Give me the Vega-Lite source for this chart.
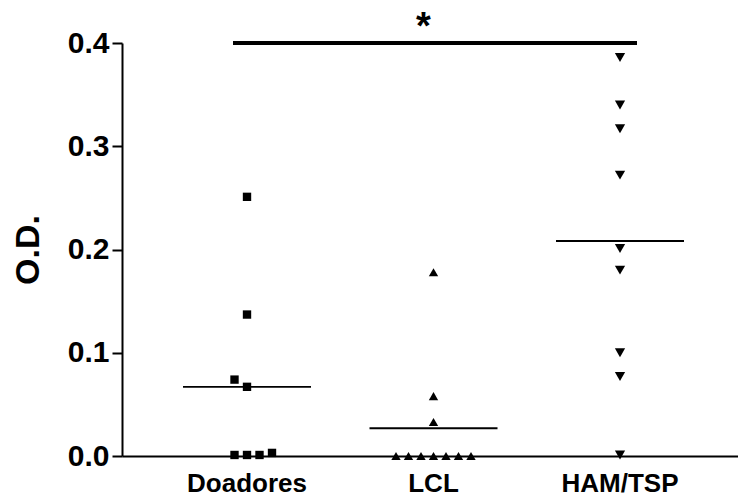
{
  "$schema": "https://vega.github.io/schema/vega-lite/v6.json",
  "width": 616,
  "height": 413,
  "autosize": {"type": "none"},
  "padding": {"left": 122, "top": 43, "right": 0, "bottom": 41},
  "background": "white",
  "config": {"view": {"stroke": null}, "font": "Liberation Sans"},
  "datasets": {
    "points": [
      {"group": "Doadores", "od": 0.251, "slot": 0},
      {"group": "Doadores", "od": 0.137, "slot": 0},
      {"group": "Doadores", "od": 0.074, "slot": -1},
      {"group": "Doadores", "od": 0.067, "slot": 0},
      {"group": "Doadores", "od": 0.001, "slot": -1},
      {"group": "Doadores", "od": 0.001, "slot": 0},
      {"group": "Doadores", "od": 0.001, "slot": 1},
      {"group": "Doadores", "od": 0.003, "slot": 2},
      {"group": "LCL", "od": 0.178, "slot": 0},
      {"group": "LCL", "od": 0.058, "slot": 0},
      {"group": "LCL", "od": 0.033, "slot": 0},
      {"group": "LCL", "od": 0.0, "slot": -3},
      {"group": "LCL", "od": 0.0, "slot": -2},
      {"group": "LCL", "od": 0.0, "slot": -1},
      {"group": "LCL", "od": 0.0, "slot": 0},
      {"group": "LCL", "od": 0.0, "slot": 1},
      {"group": "LCL", "od": 0.0, "slot": 2},
      {"group": "LCL", "od": 0.0, "slot": 3},
      {"group": "HAM/TSP", "od": 0.386, "slot": 0},
      {"group": "HAM/TSP", "od": 0.340, "slot": 0},
      {"group": "HAM/TSP", "od": 0.317, "slot": 0},
      {"group": "HAM/TSP", "od": 0.272, "slot": 0},
      {"group": "HAM/TSP", "od": 0.201, "slot": 0},
      {"group": "HAM/TSP", "od": 0.180, "slot": 0},
      {"group": "HAM/TSP", "od": 0.100, "slot": 0},
      {"group": "HAM/TSP", "od": 0.077, "slot": 0},
      {"group": "HAM/TSP", "od": 0.001, "slot": 0}
    ],
    "sig": [
      {"from": "Doadores", "to": "HAM/TSP", "mid": "LCL", "y": 0.4, "label": "*"}
    ]
  },
  "layer": [
    {
      "data": {"name": "points"},
      "mark": {"type": "point", "filled": true, "color": "black", "opacity": 1},
      "encoding": {
        "x": {
          "field": "group",
          "type": "nominal",
          "scale": {"domain": ["Doadores", "LCL", "HAM/TSP"], "paddingInner": 0, "paddingOuter": 0.1515, "align": 0.562},
          "title": null,
          "axis": {
            "ticks": false,
            "tickSize": 0,
            "domainColor": "black",
            "domainWidth": 2,
            "labelFont": "Liberation Sans",
            "labelFontSize": 26,
            "labelFontWeight": "bold",
            "labelColor": "black",
            "labelAngle": 0,
            "labelPadding": 14,
            "grid": false
          }
        },
        "xOffset": {
          "field": "slot",
          "type": "quantitative",
          "scale": {"domain": [-6, 6], "range": [18.25, 168.25]}
        },
        "y": {
          "field": "od",
          "type": "quantitative",
          "scale": {"domain": [0, 0.4], "nice": false, "zero": true},
          "title": "O.D.",
          "axis": {
            "values": [0, 0.1, 0.2, 0.3, 0.4],
            "format": ".1f",
            "grid": false,
            "domainColor": "black",
            "domainWidth": 2,
            "tickColor": "black",
            "tickWidth": 2,
            "tickSize": 10,
            "labelFont": "Liberation Sans",
            "labelFontSize": 30,
            "labelFontWeight": "bold",
            "labelColor": "black",
            "labelPadding": 3,
            "labelFlush": false,
            "labelOverlap": false,
            "labelBound": false,
            "titleFont": "Liberation Sans",
            "titleFontSize": 34,
            "titleFontWeight": "bold",
            "titleColor": "black",
            "titlePadding": 22
          }
        },
        "shape": {
          "field": "group",
          "type": "nominal",
          "scale": {"domain": ["Doadores", "LCL", "HAM/TSP"], "range": ["square", "triangle-up", "triangle-down"]},
          "legend": null
        },
        "size": {
          "field": "group",
          "type": "nominal",
          "scale": {"domain": ["Doadores", "LCL", "HAM/TSP"], "range": [70, 105, 105]},
          "legend": null
        }
      }
    },
    {
      "data": {"name": "points"},
      "mark": {"type": "tick", "color": "black", "size": 128, "thickness": 1.8},
      "encoding": {
        "x": {"field": "group", "type": "nominal"},
        "y": {"aggregate": "mean", "field": "od", "type": "quantitative"}
      }
    },
    {
      "data": {"name": "sig"},
      "mark": {"type": "rule", "color": "black", "strokeWidth": 4, "xOffset": -14, "x2Offset": 17},
      "encoding": {
        "x": {"field": "from", "type": "nominal"},
        "x2": {"field": "to"},
        "y": {"field": "y", "type": "quantitative"}
      }
    },
    {
      "data": {"name": "sig"},
      "mark": {"type": "text", "color": "black", "font": "Liberation Sans", "fontSize": 38, "fontWeight": "bold", "baseline": "middle", "dx": -10, "dy": -15},
      "encoding": {
        "x": {"field": "mid", "type": "nominal"},
        "y": {"field": "y", "type": "quantitative"},
        "text": {"field": "label"}
      }
    }
  ]
}
